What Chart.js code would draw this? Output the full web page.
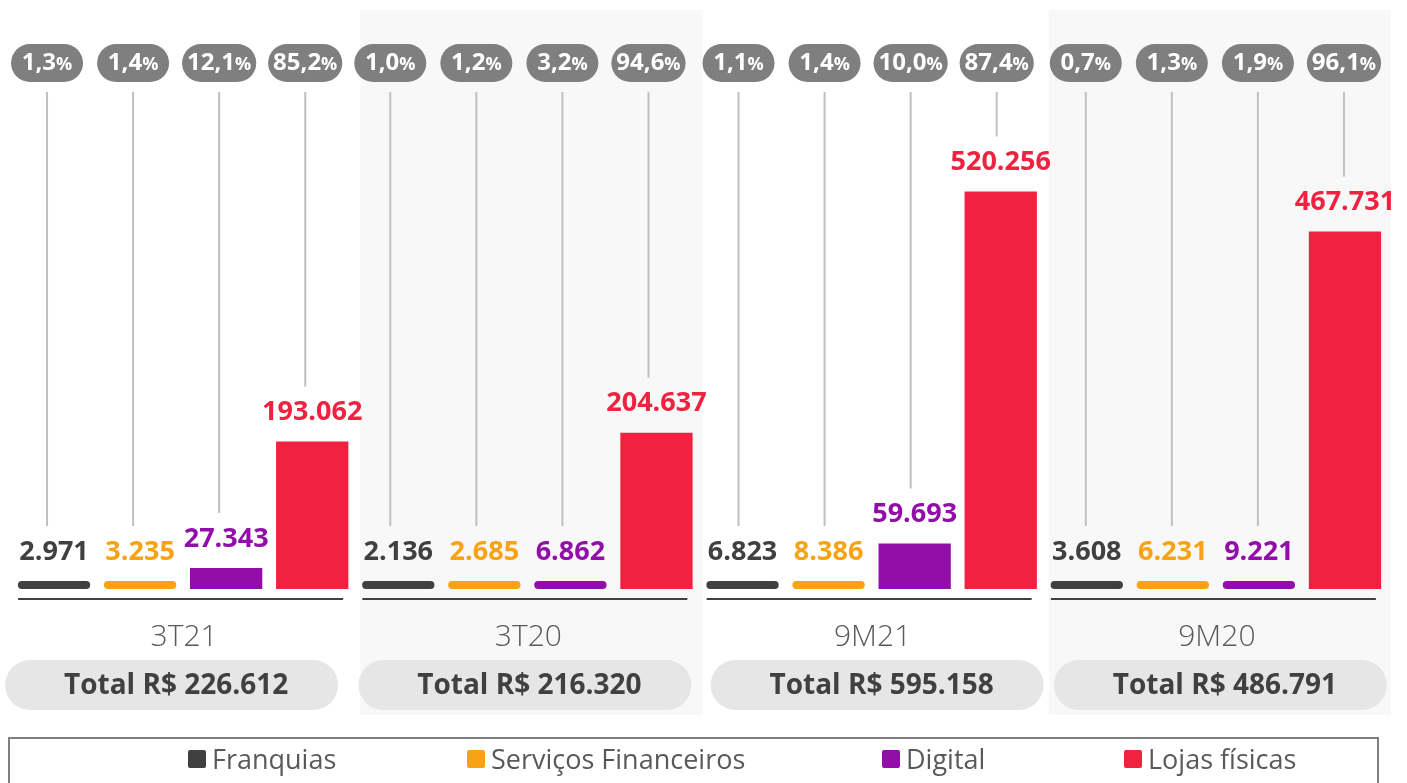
<!DOCTYPE html>
<html>
<head>
<meta charset="utf-8">
<script src="https://cdn.jsdelivr.net/npm/chart.js@4.4.1/dist/chart.umd.min.js"></script>
<style>
body { margin: 0; background: #fff; }
#wrap { width: 1407px; height: 783px; }
</style>
</head>
<body>
<div id="wrap"><canvas id="chart" width="1407" height="783"></canvas></div>
<script>
const periods = ['3T21', '3T20', '9M21', '9M20'];
const totals = ['226.612', '216.320', '595.158', '486.791'];

const franquias = [2971, 2136, 6823, 3608];
const servicos = [3235, 2685, 8386, 6231];
const digital = [27343, 6862, 59693, 9221];
const lojas = [193062, 204637, 520256, 467731];

const pctFranquias = ['1,3', '1,0', '1,1', '0,7'];
const pctServicos = ['1,4', '1,2', '1,4', '1,3'];
const pctDigital = ['12,1', '3,2', '10,0', '1,9'];
const pctLojas = ['85,2', '94,6', '87,4', '96,1'];

const seriesNames = ['Franquias', 'Serviços Financeiros', 'Digital', 'Lojas físicas'];
const seriesColors = ['#404040', '#f9a214', '#930dab', '#f0223f'];
const seriesPcts = [pctFranquias, pctServicos, pctDigital, pctLojas];

const FONT = '"Open Sans", "Noto Sans", sans-serif';

// small per-group nudges so the decorations sit like in the original slide
const pillShift = [-7, -8, -4, -1];
const totalShift = [-11, -2, 6, 5];
const legendX = [188, 467, 882, 1124];

function fmt(v) {
    return String(v).replace(/\B(?=(\d{3})+(?!\d))/g, '.');
}

// grey bands behind 2nd and 4th group
const shadePlugin = {
    id: 'shade',
    beforeDatasetsDraw(chart) {
        const { ctx } = chart;
        const x = chart.scales.x;
        ctx.save();
        ctx.fillStyle = '#f8f8f8';
        [1, 3].forEach(i => {
            const c = x.getPixelForValue(i);
            ctx.fillRect(c - 167, 10, 342, 705);
        });
        ctx.restore();
    }
};

const decoPlugin = {
    id: 'deco',
    afterDatasetsDraw(chart) {
        const { ctx } = chart;
        const x = chart.scales.x;
        const bottom = chart.chartArea.bottom;
        ctx.save();
        ctx.textAlign = 'center';
        ctx.textBaseline = 'middle';

        chart.data.datasets.forEach((ds, d) => {
            chart.getDatasetMeta(d).data.forEach((bar, i) => {
                const labelY = bar.y - 29;
                const px = bar.x + pillShift[i];

                // connector line
                ctx.strokeStyle = '#c0c0c0';
                ctx.lineWidth = 2;
                ctx.beginPath();
                ctx.moveTo(px, 92);
                ctx.lineTo(px, labelY - 26);
                ctx.stroke();

                // value label
                ctx.fillStyle = seriesColors[d];
                ctx.font = 'bold 27px ' + FONT;
                ctx.fillText(fmt(ds.data[i]), bar.x, labelY);

                // percent pill
                const num = seriesPcts[d][i];
                ctx.font = 'bold 24px ' + FONT;
                const w1 = ctx.measureText(num).width;
                ctx.font = 'bold 18px ' + FONT;
                const w2 = ctx.measureText('%').width;
                const pw = Math.max(72, w1 + w2 + 10);
                ctx.fillStyle = '#7f7f7f';
                ctx.beginPath();
                ctx.roundRect(px - pw / 2, 44, pw, 38, 19);
                ctx.fill();
                ctx.fillStyle = '#ffffff';
                ctx.textAlign = 'left';
                ctx.font = 'bold 24px ' + FONT;
                ctx.fillText(num, px - (w1 + w2) / 2, 63);
                ctx.font = 'bold 18px ' + FONT;
                ctx.fillText('%', px - (w1 + w2) / 2 + w1, 65);
                ctx.textAlign = 'center';
            });
        });

        periods.forEach((p, i) => {
            const c = x.getPixelForValue(i);
            // axis segment
            ctx.strokeStyle = '#404040';
            ctx.lineWidth = 2;
            ctx.beginPath();
            ctx.moveTo(c - 165, bottom + 10);
            ctx.lineTo(c + 160, bottom + 10);
            ctx.stroke();

            // category label
            ctx.fillStyle = '#595959';
            ctx.font = '300 30px ' + FONT;
            ctx.fillText(p, c + 1, 637);

            // total pill
            const tc = c + totalShift[i];
            ctx.fillStyle = '#e6e6e6';
            ctx.beginPath();
            ctx.roundRect(tc - 167, 660, 333, 50, 25);
            ctx.fill();
            ctx.fillStyle = '#404040';
            ctx.font = 'bold 28px ' + FONT;
            ctx.fillText('Total R$ ' + totals[i], tc + 4, 686);
        });

        // legend box
        ctx.strokeStyle = '#808080';
        ctx.lineWidth = 2;
        ctx.strokeRect(9, 738, 1369, 60);
        ctx.textAlign = 'left';
        ctx.font = '27px ' + FONT;
        seriesNames.forEach((n, k) => {
            ctx.fillStyle = seriesColors[k];
            ctx.beginPath();
            ctx.roundRect(legendX[k], 750, 18, 18, 2);
            ctx.fill();
            ctx.fillStyle = '#595959';
            ctx.fillText(n, legendX[k] + 24, 761);
        });
        ctx.restore();
    }
};

const makeDataset = (k, data) => ({
    label: seriesNames[k],
    data: data,
    backgroundColor: seriesColors[k],
    borderRadius: c => (c.raw < 10000 ? 4 : 0),
    borderSkipped: false,
    minBarLength: 8
});

new Chart(document.getElementById('chart'), {
    type: 'bar',
    data: {
        labels: periods,
        datasets: [
            makeDataset(0, franquias),
            makeDataset(1, servicos),
            makeDataset(2, digital),
            makeDataset(3, lojas)
        ]
    },
    options: {
        responsive: false,
        animation: false,
        devicePixelRatio: 1,
        layout: { padding: { left: 11, right: 19, top: 100, bottom: 194 } },
        datasets: { bar: { categoryPercentage: 1.0, barPercentage: 0.84 } },
        scales: {
            x: { display: false },
            y: { display: false, min: 0, max: 640000 }
        },
        plugins: {
            legend: { display: false },
            tooltip: { enabled: false }
        }
    },
    plugins: [shadePlugin, decoPlugin]
});
</script>
</body>
</html>
